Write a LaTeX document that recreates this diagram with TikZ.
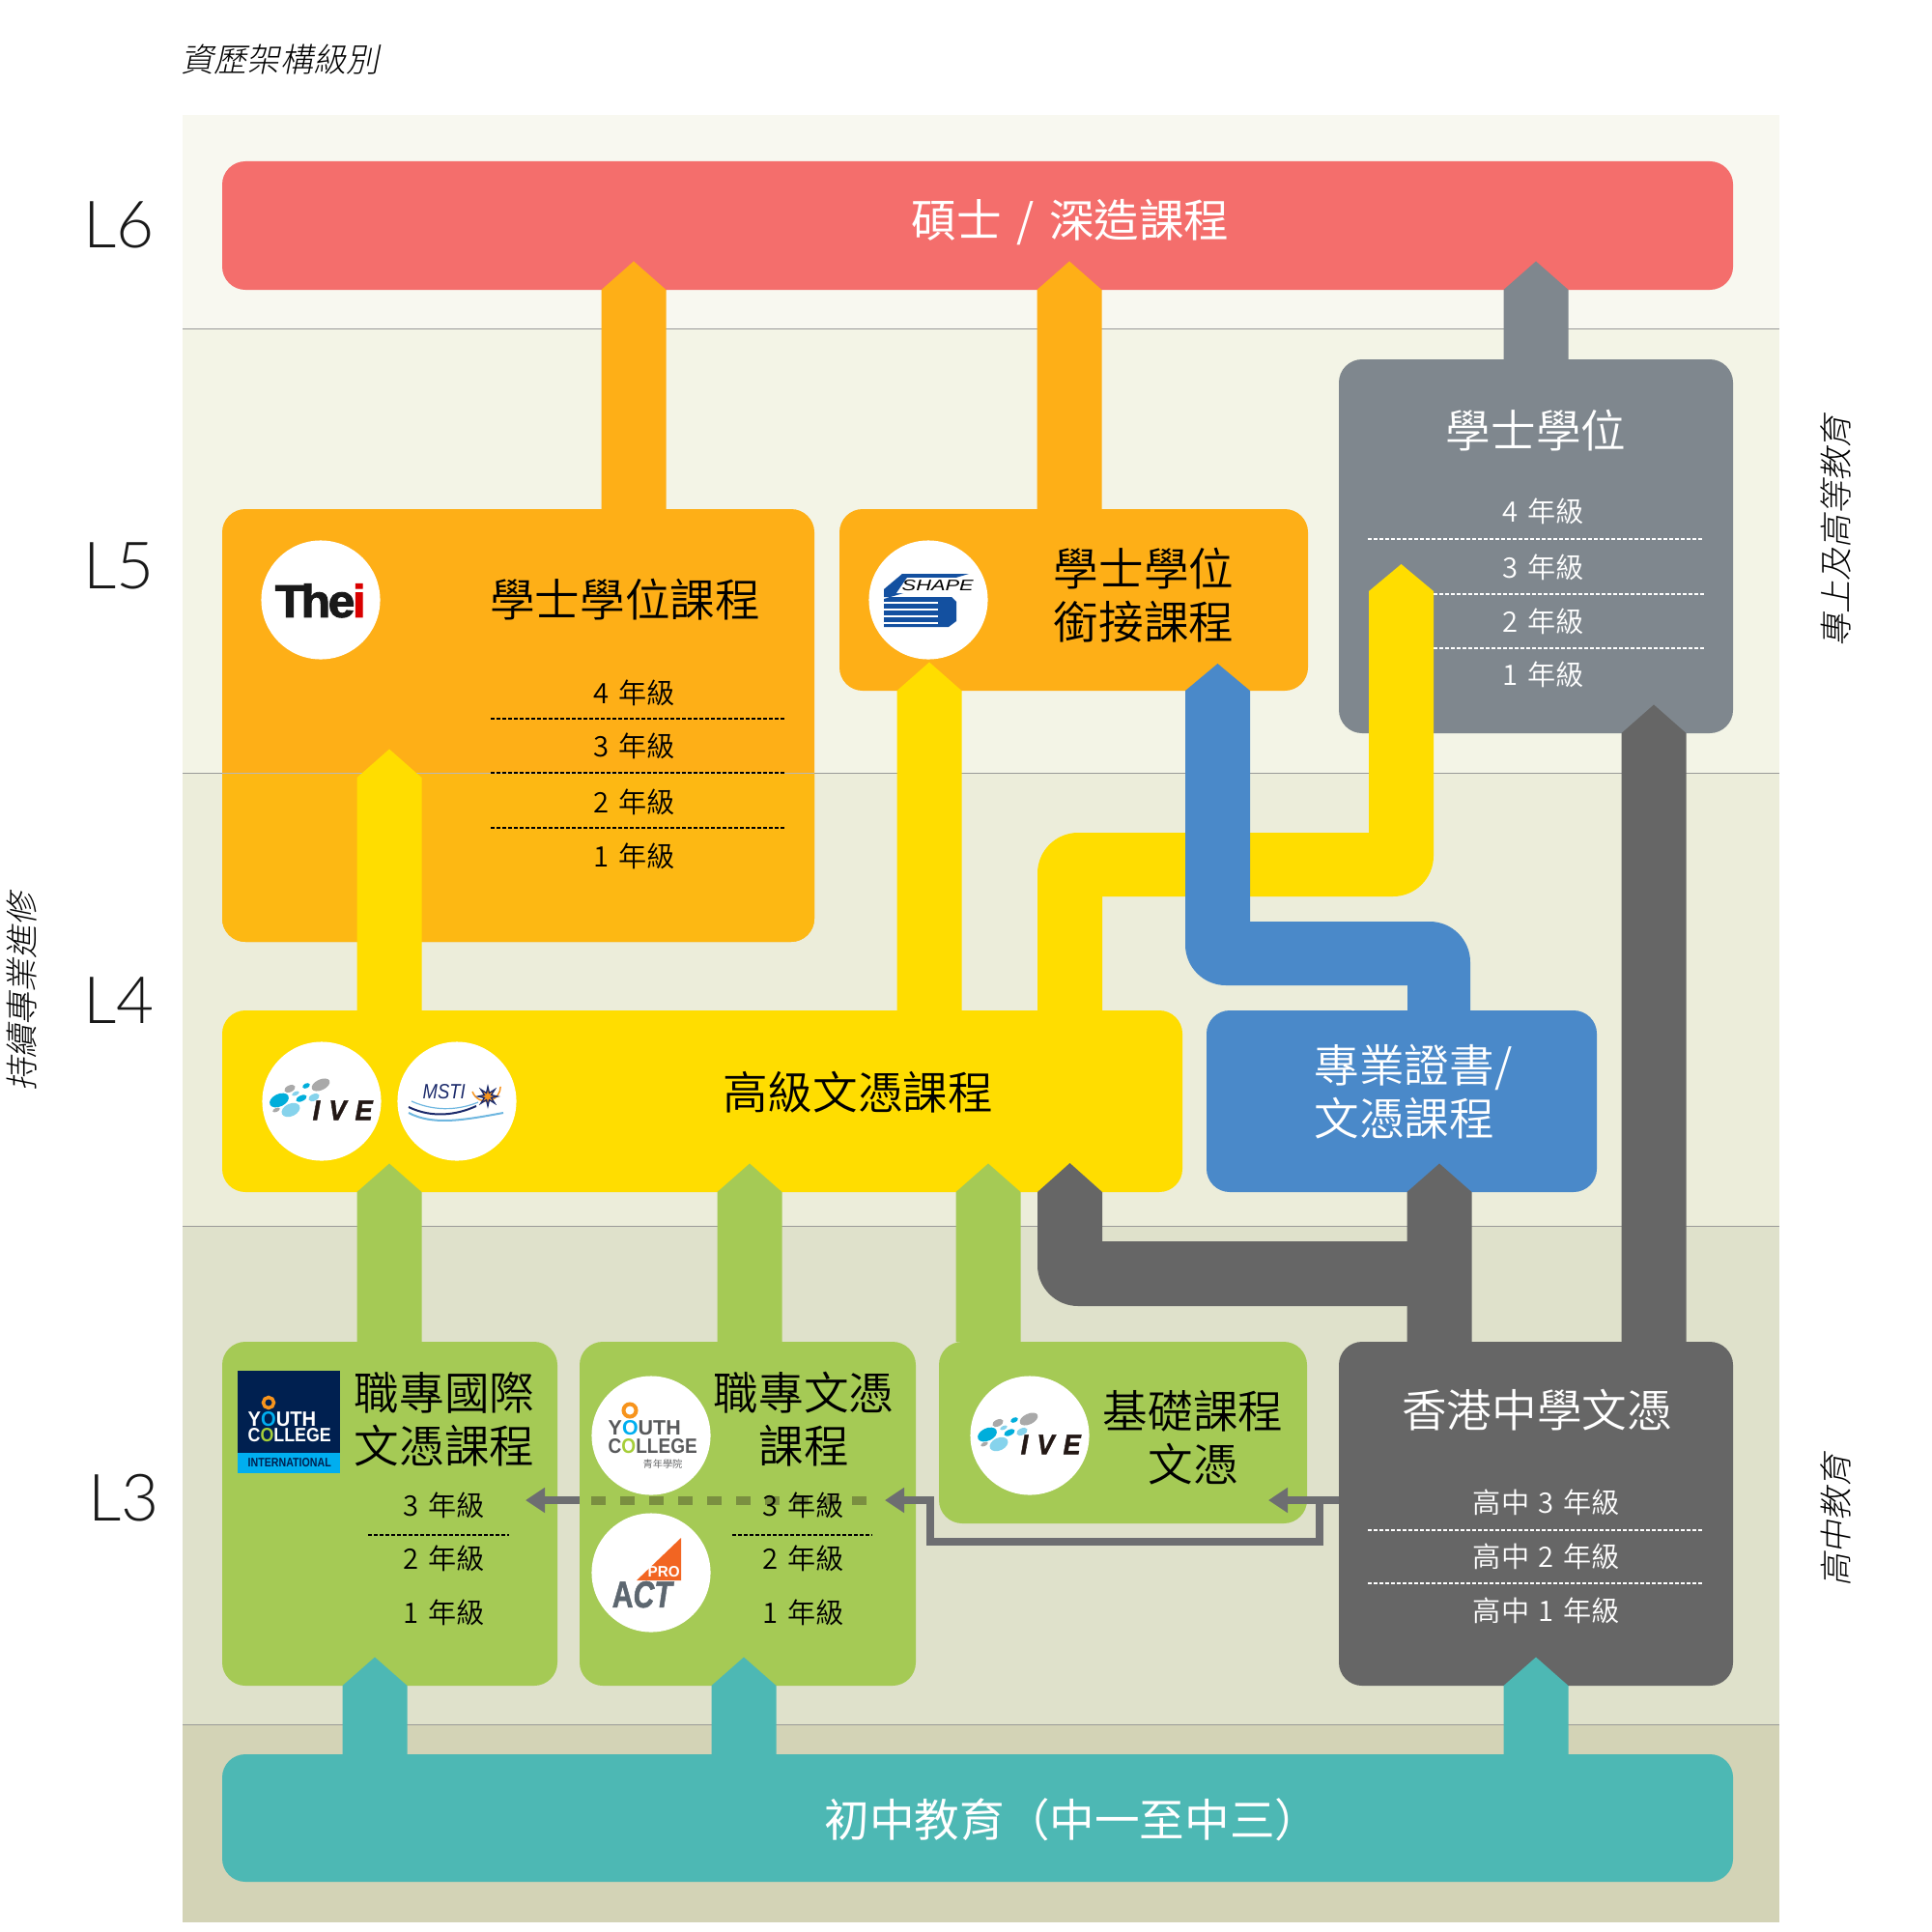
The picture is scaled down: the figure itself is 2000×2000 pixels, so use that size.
\documentclass[tikz,border=0pt]{standalone}
\usepackage{fontspec}
\usepackage{graphicx}
\usetikzlibrary{arrows.meta,calc,shapes.geometric}
\setmainfont{Noto Sans CJK TC DemiLight}
\newfontfamily\cjkit[FakeSlant=0.2]{Noto Sans CJK TC Light}
\newfontfamily\cjkreg{Noto Sans CJK TC}
\newfontfamily\lvfont{Lato Light}
\newfontfamily\logobf{Liberation Sans Bold}
\newfontfamily\logoheavy[FakeBold=2]{Liberation Sans Bold}
\newfontfamily\logoit[FakeBold=1.5]{Liberation Sans Bold Italic}
\newfontfamily\logoobl{Liberation Sans Italic}
\definecolor{cRed}{HTML}{F46E6C}
\definecolor{cOrange}{HTML}{FEAF17}
\definecolor{cOrangeB}{HTML}{FDB813}
\definecolor{cGray}{HTML}{7F878E}
\definecolor{cYellow}{HTML}{FFDD00}
\definecolor{cBlue}{HTML}{4A89C9}
\definecolor{cGreen}{HTML}{A5CA55}
\definecolor{cTeal}{HTML}{4DB8B4}
\definecolor{cDark}{HTML}{666666}
\definecolor{cArrow}{HTML}{6D6E71}
\definecolor{cDash}{HTML}{7A8F40}
\definecolor{bA}{HTML}{F8F8F0}
\definecolor{bB}{HTML}{F3F4E6}
\definecolor{bC}{HTML}{ECEDDA}
\definecolor{bD}{HTML}{DFE1CB}
\definecolor{bE}{HTML}{D3D3B6}
\definecolor{cLine}{HTML}{9A9A98}
\definecolor{ivC}{HTML}{00AEDB}
\definecolor{ivL}{HTML}{86D3EC}
\definecolor{ivG}{HTML}{A9A9A9}
\definecolor{ivK}{HTML}{231815}
\definecolor{ycN}{HTML}{002050}
\definecolor{ycB}{HTML}{00AEEF}
\definecolor{ycO}{HTML}{F7941D}
\definecolor{ycL}{HTML}{A6CE39}
\definecolor{ycK}{HTML}{58595B}
\definecolor{shB}{HTML}{1350A0}
\definecolor{msN}{HTML}{1B2A6B}
\definecolor{msL}{HTML}{6FB7E0}
\definecolor{actO}{HTML}{F26522}
\definecolor{actG}{HTML}{5D6770}
\tikzset{
  boxbase/.style={rectangle,rounded corners=.24cm,inner sep=0pt,outer sep=0pt,draw=none},
  big/.style={inner sep=0pt,align=center,font=\fontsize{13.25}{15.5}\selectfont},
  bigw/.style={big,text=white},
  heavyw/.style={bigw,font=\fontsize{13.25}{15.5}\cjkreg},
  year/.style={inner sep=0pt,font=\fontsize{8.3}{9.6}\selectfont},
  yearw/.style={year,text=white},
  side/.style={inner sep=0pt,font=\fontsize{9.7}{11}\cjkit},
  lv/.style={inner sep=0pt,text=black!90,font=\fontsize{19.2}{22}\lvfont},
  dotk/.style={draw=black,line width=.02cm,dash pattern=on .035cm off .025cm},
  dotw/.style={draw=white,line width=.02cm,dash pattern=on .04cm off .02cm},
  band/.style={draw=cLine,line width=.01cm},
  logoc/.style={circle,fill=white,minimum size=1.23cm,inner sep=0pt},
  greyarr/.style={draw=cArrow,line width=.08cm,-{Triangle[length=.2cm,width=.25cm]}},
  fit text/.style={inner sep=0pt,anchor=south west},
}
\newcommand\Bx[6]{%
  \pgfmathsetmacro\bw{(#5-#3)*0.01}\pgfmathsetmacro\bh{(#6-#4)*0.01}%
  \node[boxbase,fill=#2,minimum width=\bw cm,minimum height=\bh cm,anchor=north west] (#1) at (#3,#4) {};}
\newcommand\UpArr[5]{%
  \pgfmathsetmacro\xl{#2-33.5}\pgfmathsetmacro\xr{#2+33.5}\pgfmathsetmacro\sh{#5*0.01}\pgfmathsetmacro\tp{#5*0.01+.295}%
  \fill[#1] (\xl,0 |- #3.north) -- ([yshift=\sh cm]\xl,0 |- #4.south) -- ([yshift=\tp cm]#2,0 |- #4.south) -- ([yshift=\sh cm]\xr,0 |- #4.south) -- (\xr,0 |- #3.north) -- cycle;}
\newcommand\fitbox[3]{\resizebox{#1cm}{#2cm}{#3}}
\newcommand\IveLogo[3]{%
 \node[logoc] (#1) at (#2,#3) {};
 \begin{scope}[shift={(#2,#3)}]
  \fill[ivG] (-1,-17) ellipse [x radius=.10cm,y radius=.055cm,rotate=25];
  \fill[ivG] (-33,-13) ellipse [x radius=.06cm,y radius=.035cm,rotate=25];
  \fill[ivC] (-16,-16) ellipse [x radius=.04cm,y radius=.025cm,rotate=25];
  \fill[ivL] (-27,-8) ellipse [x radius=.04cm,y radius=.02cm,rotate=25];
  \fill[ivC] (-21,-3) ellipse [x radius=.06cm,y radius=.03cm,rotate=25];
  \fill[ivL] (-8,-4) ellipse [x radius=.06cm,y radius=.035cm,rotate=25];
  \fill[ivC] (-44,-1) ellipse [x radius=.105cm,y radius=.065cm,rotate=25];
  \fill[ivG] (-47,9) ellipse [x radius=.04cm,y radius=.02cm,rotate=25];
  \fill[ivL] (-32,9) ellipse [x radius=.10cm,y radius=.065cm,rotate=25];
  \node[fit text,text=ivK] (#1t) at (-10,20) {\fitbox{.62}{.20}{\logoit I\,\,V\,\,E}};
 \end{scope}}
\begin{document}
\begin{tikzpicture}[x=.01cm,y=-.01cm]
\useasboundingbox (0,0) rectangle (2000,2000);
% bands
\fill[bA] (189,119) rectangle (1842,340);
\fill[bB] (189,340) rectangle (1842,800);
\fill[bC] (189,800) rectangle (1842,1269);
\fill[bD] (189,1269) rectangle (1842,1785);
\fill[bE] (189,1785) rectangle (1842,1990);
\foreach \yy in {340,800,1269,1785} \draw[band] (189,\yy) -- (1842,\yy);
% boxes
\Bx{red}{cRed}{230}{167}{1794}{300}
\Bx{thei}{cOrange}{230}{527}{843}{975}
\fill[cOrangeB] (230,800) -- (843,800) [rounded corners=.24cm] -- (843,975) -- (230,975) [sharp corners] -- cycle;
\draw[band,draw=cLine!70] (230,800) -- (843,800);
\Bx{shape}{cOrange}{869}{527}{1354}{715}
\Bx{deg}{cGray}{1386}{372}{1794}{759}
\Bx{hd}{cYellow}{230}{1046}{1224}{1234}
\Bx{prof}{cBlue}{1249}{1046}{1653}{1234}
\Bx{gi}{cGreen}{230}{1389}{577}{1745}
\Bx{gv}{cGreen}{600}{1389}{948}{1745}
\Bx{gf}{cGreen}{972}{1389}{1353}{1577}
\Bx{hk}{cDark}{1386}{1389}{1794}{1745}
\Bx{jr}{cTeal}{230}{1816}{1794}{1948}
% grade rules in the degree box lie under the yellow arrow
\draw[dotw] (1416,558) -- (1764,558);
\draw[dotw] (1484,615) -- (1764,615);
\draw[dotw] (1484,671) -- (1764,671);
% block arrows
\UpArr{cOrange}{656}{thei}{red}{0}
\UpArr{cOrange}{1107}{shape}{red}{0}
\UpArr{cGray}{1590}{deg}{red}{0}
\UpArr{cYellow}{403}{hd}{thei}{170}
\UpArr{cYellow}{962}{hd}{shape}{0}
\fill[cYellow] (1074,0 |- hd.north) [rounded corners=.42cm] -- (1074,862) [sharp corners] -- (1417,862) -- (1417,612) -- (1450.5,584) -- (1484,612) [rounded corners=.42cm] -- (1484,928) [sharp corners] -- (1141,928) -- (1141,0 |- hd.north) -- cycle;
\fill[cBlue] (1457,0 |- prof.north) -- (1457,1020) [rounded corners=.42cm] -- (1227,1020) [sharp corners] -- (1227,0 |- shape.south) -- (1260.5,687) -- (1294,0 |- shape.south) -- (1294,954) [rounded corners=.42cm] -- (1522,954) [sharp corners] -- (1522,0 |- prof.north) -- cycle;
\UpArr{cGreen}{403}{gi}{hd}{0}
\UpArr{cGreen}{776}{gv}{hd}{0}
\UpArr{cGreen}{1023}{gf}{hd}{0}
\UpArr{cDark}{1490}{hk}{prof}{0}
\fill[cDark] (1074,1234) -- (1107.5,1204) -- (1141,1234) -- (1141,1285) -- (1490,1285) -- (1490,1352) [rounded corners=.42cm] -- (1074,1352) [sharp corners] -- cycle;
\UpArr{cDark}{1712}{hk}{deg}{0}
\UpArr{cTeal}{388}{jr}{gi}{0}
\UpArr{cTeal}{770}{jr}{gv}{0}
\UpArr{cTeal}{1590}{jr}{hk}{0}
% thin arrows
\draw[cDash,line width=.09cm,dash pattern=on .15cm off .15cm] (612,1553) -- (910,1553);
\coordinate (a1) at (544,1553);
\coordinate (a2) at (916,1553);
\coordinate (a3) at (1313,1553);
\coordinate (k1) at (1366,1553);
\draw[greyarr] (gv.west |- a1) -- (a1);
\draw[greyarr] (hk.west |- a3) -- (a3);
\draw[greyarr] (k1) -- (1366,1596) -- (963,1596) -- (963,1553) -- (a2);
% logos
\node[logoc] (ct) at (332,621) {};
\node[fit text] (ctt) at (284,640) {\fitbox{.94}{.345}{\logoheavy\textcolor{black!90}{T\kern-.07em h\kern-.05em e\kern-.05em}\textcolor{red!85!black}{i}}};
\node[logoc] (cs) at (961,621) {};
\begin{scope}[shift={(961,621)}]
 \fill[shB] (42,-27) -- (-27,-27) -- (-46,-11) -- (-46,-3) -- (24,-3) -- (29,2) -- (29,22) -- (21,28) -- (-46,28) -- (-46,-1) -- cycle;
 \fill[white] (50,-23) -- (-22,-23) -- (-33,-7) -- (44,-7) -- cycle;
 \foreach \yy in {3,10,17,24} \fill[white] (-46,\yy-.8) rectangle (10,\yy+.8);
 \node[fit text,text=black] (cst) at (-28,-9) {\fitbox{.74}{.11}{\logoobl SHAPE}};
\end{scope}
\IveLogo{ci1}{333}{1140}
\node[logoc] (cm) at (473,1140) {};
\begin{scope}[shift={(473,1140)}]
 \node[fit text,text=msN] (cmt) at (-36,-2) {\fitbox{.44}{.15}{\logoobl MSTI}};
 \draw[msL,line width=.012cm] (-47,0) .. controls (-20,12) and (5,8) .. (22,1);
 \draw[msN,line width=.02cm] (-50,6) .. controls (-25,18) and (0,14) .. (20,5);
 \draw[msL,line width=.02cm] (-50,12) .. controls (-25,25) and (5,20) .. (48,12);
 \draw[ycO,line width=.015cm] (16,-10) arc[start angle=200,end angle=360,radius=.15cm];
 \node[star,star points=8,star point ratio=2.6,fill=msN,minimum size=.26cm,inner sep=0pt] (cms) at (32,-5) {};
 \node[star,star points=8,star point ratio=2.6,fill=ycO,minimum size=.13cm,inner sep=0pt] (cmo) at (32,-5) {};
\end{scope}
% YC international
\fill[ycN] (246,1419) rectangle (352,1505);
\fill[ycB] (246,1504) rectangle (352,1525);
\draw[ycO,line width=.035cm] (278,1452) circle [radius=.055cm];
\node[fit text] (yi1) at (256,1477) {\fitbox{.705}{.15}{\logobf\textcolor{white}{Y}\textcolor{ycB}{O}\textcolor{white}{UTH}}};
\node[fit text] (yi2) at (256,1493) {\fitbox{.86}{.14}{\logobf\textcolor{white}{C}\textcolor{ycL}{O}\textcolor{white}{LLEGE}}};
\node[fit text,text=ycN] (yi3) at (256,1519) {\fitbox{.86}{.09}{\logobf INTERNATIONAL}};
% YC
\node[logoc] (cy) at (674,1486) {};
\begin{scope}[shift={(674,1486)}]
 \draw[ycO,line width=.04cm] (-22,-26) circle [radius=.065cm];
 \node[fit text] (cy1) at (-45,0) {\fitbox{.75}{.15}{\logobf\textcolor{ycK}{Y}\textcolor{ycB}{O}\textcolor{ycK}{UTH}}};
 \node[fit text] (cy2) at (-45,19) {\fitbox{.92}{.15}{\logobf\textcolor{ycK}{C}\textcolor{ycL}{O}\textcolor{ycK}{LLEGE}}};
 \node[inner sep=0pt,text=ycK,font=\fontsize{2.9}{3}\selectfont] (cy3) at (12,29.5) {青年學院};
\end{scope}
% PRO ACT
\node[logoc] (ca) at (674,1628) {};
\begin{scope}[shift={(674,1628)}]
 \fill[actO] (31,-36) -- (31,8) -- (-15,8) -- cycle;
 \node[fit text] (ca1) at (-4,5) {\fitbox{.33}{.11}{\logobf\textcolor{white}{PRO}}};
 \node[fit text,text=actG] (ca2) at (-41,37) {\fitbox{.62}{.27}{\logoit\textit{A}CT}};
\end{scope}
% texts
\node[side] (tq) at (290,62) {資歷架構級別};
\node[side,rotate=90] (tc) at (23,1027) {持續專業進修};
\node[side,rotate=90] (th) at (1900,550) {專上及高等教育};
\node[side,rotate=90] (ts) at (1900,1574) {高中教育};
\node[lv] (l6) at (123,233) {L6};
\node[lv] (l5) at (123,586) {L5};
\node[lv] (l4) at (123,1036) {L4};
\node[lv] (l3) at (128,1551) {L3};
\node[heavyw] (t1) at (1108,230) {碩士\,\,/\,\,深造課程};
\node[big] (t2) at (647,621) {學士學位課程};
\node[big] (t3) at (1184,616) {學士學位\\銜接課程};
\node[bigw] (t4) at (1590,446) {學士學位};
\node[big] (t5) at (888,1131) {高級文憑課程};
\node[bigw,align=left] (t6) at (1463,1130) {專業證書/\\文憑課程};
\node[big] (t7) at (460,1469) {職專國際\\文憑課程};
\node[big] (t8) at (832,1469) {職專文憑\\課程};
\node[big] (t9) at (1235,1488) {基礎課程\\文憑};
\node[bigw] (t10) at (1591,1460) {香港中學文憑};
\node[heavyw] (t11) at (1110,1884) {初中教育（中一至中三）};
% year labels
\node[year] (a4) at (657,717) {4\,\,年級};
\node[year] (a3y) at (657,772) {3\,\,年級};
\node[year] (a2y) at (657,830) {2\,\,年級};
\node[year] (a1y) at (657,886) {1\,\,年級};
\draw[dotk] (508,744) -- (812,744);
\draw[dotk] (508,800) -- (812,800);
\draw[dotk] (508,857) -- (812,857);
\node[yearw] (d4) at (1598,529) {4\,\,年級};
\node[yearw] (d3) at (1598,587) {3\,\,年級};
\node[yearw] (d2) at (1598,643) {2\,\,年級};
\node[yearw] (d1) at (1598,698) {1\,\,年級};
\node[year] (g3) at (460,1558) {3\,\,年級};
\node[year] (g2) at (460,1613) {2\,\,年級};
\node[year] (g1) at (460,1669) {1\,\,年級};
\draw[dotk] (381,1589) -- (527,1589);
\node[year] (v3) at (832,1558) {3\,\,年級};
\node[year] (v2) at (832,1613) {2\,\,年級};
\node[year] (v1) at (832,1669) {1\,\,年級};
\draw[dotk] (758,1589) -- (903,1589);
\IveLogo{ci2}{1066}{1486}
\node[yearw] (h3) at (1601,1555) {高中\,\,3\,\,年級};
\node[yearw] (h2) at (1601,1611) {高中\,\,2\,\,年級};
\node[yearw] (h1) at (1601,1667) {高中\,\,1\,\,年級};
\draw[dotw] (1416,1584) -- (1764,1584);
\draw[dotw] (1416,1639) -- (1764,1639);
\end{tikzpicture}
\end{document}
